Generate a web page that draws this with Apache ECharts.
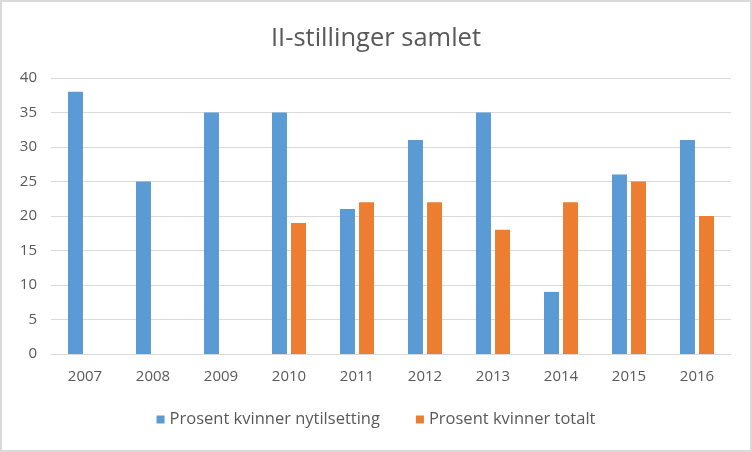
<!DOCTYPE html>
<html><head><meta charset="utf-8">
<script src="https://cdn.jsdelivr.net/npm/echarts@6/dist/echarts.min.js"></script>
<style>html,body{margin:0;padding:0;background:#fff}#c{width:752px;height:452px;box-sizing:border-box;border:2px solid #d9d9d9}</style>
</head><body><div id="c"></div>
<script>
const categories = ['2007','2008','2009','2010','2011','2012','2013','2014','2015','2016'];
const nytilsetting = [38,25,35,35,21,31,35,9,26,31];
const totalt = [null,null,null,19,22,22,18,22,25,20];
const seriesNames = ['Prosent kvinner nytilsetting','Prosent kvinner totalt'];
const chart = echarts.init(document.getElementById('c'));
const font = '"Open Sans", Lato, sans-serif';
chart.setOption({
  animation:false,
  textStyle:{fontFamily:font},
  title:{text:'II-stillinger samlet',left:'center',top:19,textStyle:{fontFamily:font,fontSize:25.5,fontWeight:'normal',color:'#595959'}},
  legend:{bottom:17,left:'center',itemWidth:8,itemHeight:8,itemGap:36,icon:'rect',textStyle:{fontFamily:font,fontSize:16.5,color:'#595959'},data:seriesNames},
  grid:{left:49,right:19,top:76,bottom:96},
  xAxis:{type:'category',data:categories,axisTick:{show:false},axisLine:{lineStyle:{color:'#d9d9d9',width:1}},axisLabel:{fontFamily:font,fontSize:15,color:'#595959',margin:15}},
  yAxis:{type:'value',min:0,max:40,interval:5,axisLine:{show:false},axisTick:{show:false},splitLine:{lineStyle:{color:'#d9d9d9',width:1}},axisLabel:{fontFamily:font,fontSize:15,color:'#595959',margin:14}},
  series:[
    {name:seriesNames[0],type:'bar',data:nytilsetting,barWidth:15,barGap:'27%',itemStyle:{color:'#5b9bd5'}},
    {name:seriesNames[1],type:'bar',data:totalt,barWidth:15,itemStyle:{color:'#ed7d31'}}
  ]
});
</script></body></html>
